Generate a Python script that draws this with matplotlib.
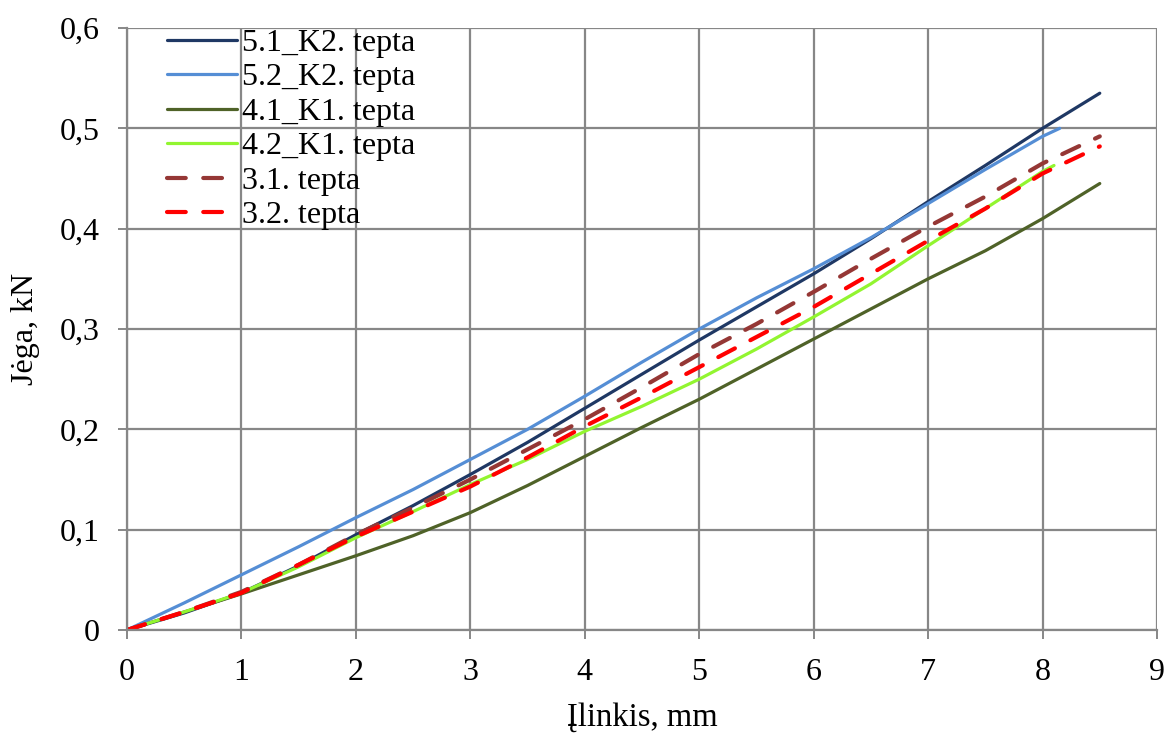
import matplotlib
matplotlib.use("Agg")
import matplotlib.pyplot as plt
from matplotlib.ticker import FuncFormatter, MultipleLocator

# Data
x_a = [0, 0.5, 1, 1.5, 2, 2.5, 3, 3.5, 4, 4.5, 5, 5.5, 6, 6.5, 7, 7.5, 8, 8.5]
s51 = [0, 0.017, 0.037, 0.064, 0.095, 0.124, 0.155, 0.187, 0.221, 0.255, 0.289, 0.322, 0.355, 0.390, 0.427, 0.463, 0.500, 0.535]
s41 = [0, 0.018, 0.036, 0.055, 0.074, 0.094, 0.117, 0.144, 0.173, 0.202, 0.230, 0.260, 0.290, 0.320, 0.350, 0.378, 0.410, 0.445]
s31 = [0, 0.018, 0.038, 0.065, 0.095, 0.122, 0.150, 0.180, 0.210, 0.242, 0.275, 0.305, 0.337, 0.370, 0.402, 0.432, 0.465, 0.492]
s32 = [0, 0.018, 0.037, 0.065, 0.093, 0.118, 0.143, 0.172, 0.203, 0.232, 0.262, 0.292, 0.322, 0.355, 0.388, 0.420, 0.455, 0.482]

x_52 = [0, 0.5, 1, 1.5, 2, 2.5, 3, 3.5, 4, 4.5, 5, 5.5, 6, 6.5, 7, 7.5, 8, 8.15]
s52 = [0, 0.027, 0.055, 0.083, 0.112, 0.140, 0.170, 0.200, 0.233, 0.267, 0.300, 0.331, 0.360, 0.391, 0.425, 0.459, 0.492, 0.500]

x_42 = [0, 0.5, 1, 1.5, 2, 2.5, 3, 3.5, 4, 4.5, 5, 5.5, 6, 6.5, 7, 7.5, 8, 8.1]
s42 = [0, 0.018, 0.037, 0.063, 0.092, 0.118, 0.145, 0.170, 0.198, 0.223, 0.250, 0.280, 0.312, 0.345, 0.383, 0.420, 0.457, 0.463]

labels = ["5.1_K2. tepta", "5.2_K2. tepta", "4.1_K1. tepta", "4.2_K1. tepta", "3.1. tepta", "3.2. tepta"]
colors = ["#1F3864", "#558ED5", "#4F6228", "#92F530", "#953735", "#FF0000"]

plt.rcParams['font.family'] = ['Liberation Serif', 'DejaVu Serif']

fig = plt.figure(figsize=(11.67, 7.47), dpi=100)
ax = fig.add_axes([127/1167, 117/747, 1030/1167, 602/747])

lw = 2.3
ax.plot(x_a, s51, color=colors[0], lw=lw, label=labels[0], solid_capstyle='round')
ax.plot(x_52, s52, color=colors[1], lw=lw, label=labels[1], solid_capstyle='round')
ax.plot(x_a, s41, color=colors[2], lw=lw, label=labels[2], solid_capstyle='round')
ax.plot(x_42, s42, color=colors[3], lw=lw, label=labels[3], solid_capstyle='round')
ax.plot(x_a, s31, color=colors[4], lw=3.0, label=labels[4], dashes=(4.5, 4.2), dash_capstyle='round')
ax.plot(x_a, s32, color=colors[5], lw=3.0, label=labels[5], dashes=(4.5, 4.2), dash_capstyle='round')

ax.set_xlim(0, 9)
ax.set_ylim(0, 0.6)
ax.xaxis.set_major_locator(MultipleLocator(1))
ax.yaxis.set_major_locator(MultipleLocator(0.1))
ax.yaxis.set_major_formatter(FuncFormatter(lambda v, p: "0" if abs(v) < 1e-9 else f"{v:.1f}".replace(".", ",")))
ax.grid(True, color="#878787", lw=1.6)
ax.set_axisbelow(True)
for s in ["top", "right"]:
    ax.spines[s].set_visible(False)
for s in ["left", "bottom"]:
    ax.spines[s].set_color("#878787")
    ax.spines[s].set_linewidth(1.6)
ax.tick_params(direction='out', length=6.5, width=1.4, color="#878787", labelsize=23)
ax.tick_params(axis='y', pad=13)
ax.tick_params(axis='x', pad=14)

ax.set_xlabel("Įlinkis, mm", fontsize=23.5, labelpad=11)
ax.set_ylabel("Jėga, kN", fontsize=23, labelpad=14)

leg = ax.legend(loc="upper left", bbox_to_anchor=(0.039, 0.999), frameon=False, fontsize=23,
                handlelength=2.2, handletextpad=0.15, labelspacing=0.16, borderpad=0, borderaxespad=0)

fig.savefig("out.png", dpi=100)
